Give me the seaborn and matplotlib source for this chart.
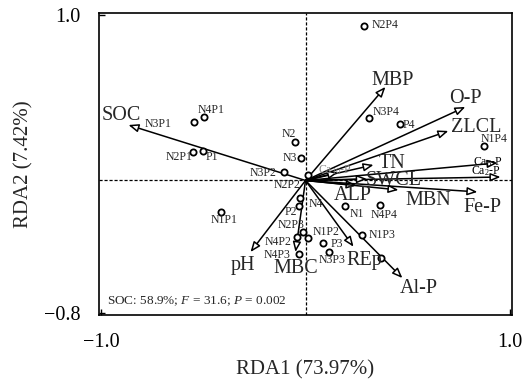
import numpy as np
import pandas as pd
import matplotlib
matplotlib.use("Agg")
import matplotlib.pyplot as plt
import seaborn as sns

# ---------------- data ----------------
env_names = ["SOC", "MBP", "O-P", "ZLCL", "TN", "Ca$_8$-P", "Ca$_2$-P", "Ca$_{10}$-P",
             "SWCL", "ALP", "MBN", "Fe-P", "REp", "Al-P", "pH", "MBC"]
env_x = [-0.866, 0.391, 0.782, 0.699, 0.333, 0.939, 0.954, 0.160,
         0.300, 0.250, 0.455, 0.841, 0.235, 0.474, -0.269, -0.049]
env_y = [0.335, 0.565, 0.444, 0.299, 0.094, 0.106, 0.021, 0.050,
         0.010, -0.030, -0.057, -0.069, -0.400, -0.589, -0.432, -0.432]

sample_names = ["N2P4", "N4P1", "N3P1", "N2P1", "P1", "N2", "N3", "N3P2", "N2P2",
                "N4", "P2", "N2P3", "N1P2", "N4P2", "N4P3", "P3", "N3P3", "N1",
                "N4P4", "N1P3", "CK", "N1P1", "N3P4", "P4", "N1P4"]
sample_x = [0.284, -0.494, -0.543, -0.548, -0.499, -0.049, -0.020, -0.103, 0.010,
            -0.029, -0.034, -0.010, 0.010, -0.044, -0.034, 0.088, 0.117, 0.191,
            0.362, 0.274, 0.367, -0.411, 0.313, 0.460, 0.875]
sample_y = [0.933, 0.383, 0.353, 0.172, 0.178, 0.232, 0.136, 0.051, 0.033,
            -0.106, -0.154, -0.311, -0.347, -0.341, -0.444, -0.377, -0.432, -0.154,
            -0.148, -0.329, -0.468, -0.190, 0.377, 0.341, 0.208]
sample_shown = [True] * 20 + [False] + [True] * 4

x_ticks = [-1.0, 1.0]
x_tick_labels = ["\u22121.0", "1.0"]
y_ticks = [-0.8, 1.0]
y_tick_labels = ["\u22120.8", "1.0"]
x_label = "RDA1 (73.97%)"
y_label = "RDA2 (7.42%)"
note = "SOC: 58.9%; $F$ = 31.6; $P$ = 0.002"

# ---------------- layout / style ----------------
env_offsets = {  # label offset from arrow tip, pixels (x right, y up)
    "SOC": (-7, 5), "MBP": (7, 2), "O-P": (0, 4), "ZLCL": (28, -1), "TN": (18, -3),
    "Ca$_8$-P": (-10, -2), "Ca$_2$-P": (-15, 3), "Ca$_{10}$-P": (-3, -1),
    "SWCL": (27, -6), "ALP": (-4, -15), "MBN": (30, -15), "Fe-P": (5, -20),
    "REp": (11, -18), "Al-P": (16, -15), "pH": (-8, -18), "MBC": (0, -21),
}
small_env = {"Ca$_8$-P", "Ca$_2$-P", "Ca$_{10}$-P"}
sample_offsets = {
    "N2P4": (21, -2), "N4P1": (7, 4), "N3P1": (-36, -5), "N2P1": (-14, -8), "P1": (8, -9),
    "N2": (-7, 5), "N3": (-12, -3), "N3P2": (-21, -4), "N2P2": (-20, -13), "N4": (16, -9),
    "P2": (-8, -9), "N2P3": (-12, 4), "N1P2": (19, 3), "N4P2": (-18, -8), "N4P3": (-22, -4),
    "P3": (13, -4), "N3P3": (3, -11), "N1": (12, -11), "N4P4": (5, -13), "N1P3": (21, -3),
    "N1P1": (3, -11), "N3P4": (17, 3), "P4": (9, -4), "N1P4": (10, 4),
}

sns.set_style("ticks")
plt.rcParams["font.family"] = ["Liberation Serif", "DejaVu Serif"]
plt.rcParams["mathtext.fontset"] = "custom"
plt.rcParams["mathtext.rm"] = "Liberation Serif"
plt.rcParams["mathtext.it"] = "Liberation Serif:italic"
plt.rcParams["mathtext.bf"] = "Liberation Serif:bold"

fig = plt.figure(figsize=(5.22, 3.83), dpi=100)
ax = fig.add_axes([99 / 522, 68 / 383, 413 / 522, 302 / 383])

ax.set_xlim(-1.01, 1.01)
ax.set_ylim(-0.812, 1.011)

# dashed zero lines
ax.axhline(0, color="black", lw=0.9, ls=(0, (2.5, 1.5)), zorder=1)
ax.axvline(0, color="black", lw=0.9, ls=(0, (2.5, 1.5)), zorder=1)

# samples
df = pd.DataFrame({"name": sample_names, "x": sample_x, "y": sample_y})
sns.scatterplot(data=df, x="x", y="y", ax=ax, s=20, marker="o",
                facecolor="white", edgecolor="black", linewidth=1.3, zorder=4,
                legend=False)
for name, sx, sy, shown in zip(sample_names, sample_x, sample_y, sample_shown):
    if not shown:
        continue
    ox, oy = sample_offsets[name]
    ax.annotate(name, (sx, sy), xytext=(ox, oy), textcoords="offset pixels",
                ha="center", va="baseline", fontsize=8.5, zorder=5)

# environmental arrows
for name, ex, ey in zip(env_names, env_x, env_y):
    ax.annotate("", xy=(ex, ey), xytext=(0, 0),
                arrowprops=dict(arrowstyle="-|>,head_length=0.5,head_width=0.2",
                                mutation_scale=12, fc="white", ec="black", lw=1.1,
                                shrinkA=0, shrinkB=0),
                zorder=3)
    ox, oy = env_offsets[name]
    if name in small_env:
        color = "#888888" if name == "Ca$_{10}$-P" else "black"
        ax.annotate(name, (ex, ey), xytext=(ox, oy), textcoords="offset pixels",
                    ha="center", va="baseline", fontsize=8.5, color=color, zorder=6)
    else:
        ax.annotate(name, (ex, ey), xytext=(ox, oy), textcoords="offset pixels",
                    ha="center", va="baseline", fontsize=14.5, zorder=6)

ax.text(0.02, 0.035, note, transform=ax.transAxes, fontsize=9.5,
        ha="left", va="baseline")

ax.set_xticks(x_ticks)
ax.set_xticklabels(x_tick_labels)
ax.set_yticks(y_ticks)
ax.set_yticklabels(y_tick_labels)
ax.tick_params(direction="in", length=4, width=1, pad=13, labelsize=14.5,
               colors="black")
ax.set_xlabel(x_label, fontsize=15, labelpad=6)
ax.set_ylabel(y_label, fontsize=15, labelpad=8)
for sp in ax.spines.values():
    sp.set_visible(True)
    sp.set_linewidth(1.2)
    sp.set_color("black")

fig.savefig("out.png", dpi=100)
